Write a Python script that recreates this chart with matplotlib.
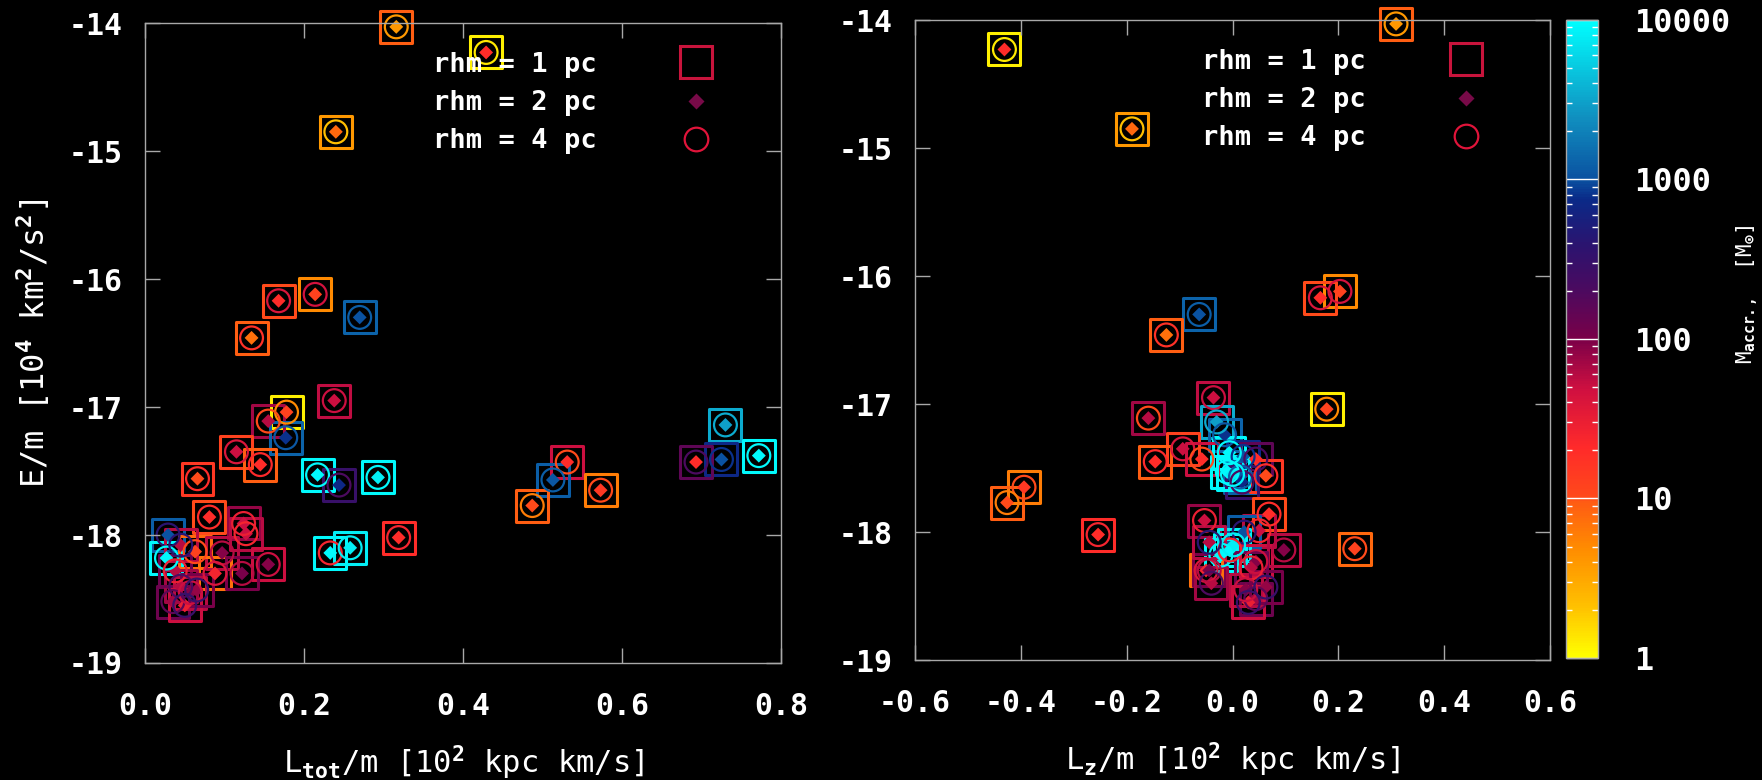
import matplotlib
matplotlib.use("Agg")
import matplotlib.pyplot as plt
import numpy as np
from matplotlib.colors import LinearSegmentedColormap, LogNorm
from matplotlib.cm import ScalarMappable
from matplotlib.lines import Line2D
from matplotlib.ticker import FixedLocator, FormatStrFormatter, LogLocator, NullFormatter

# one entry per cluster: L_tot/m, L_z/m, E/m and accreted mass for rhm = 1, 2, 4 pc
l_tot = [0.316, 0.429, 0.240, 0.214, 0.168, 0.270, 0.134, 0.238, 0.178, 0.155,
         0.730, 0.177, 0.115, 0.145, 0.772, 0.725, 0.693, 0.531, 0.513, 0.066,
         0.217, 0.244, 0.293, 0.573, 0.487, 0.081, 0.124, 0.127, 0.319, 0.029,
         0.027, 0.233, 0.258, 0.155, 0.063, 0.097, 0.088, 0.122, 0.038, 0.045,
         0.035, 0.057, 0.050, 0.065, 0.045]
l_z = [0.309, -0.431, -0.190, 0.203, 0.166, -0.063, -0.125, -0.036, 0.178, -0.159,
       -0.030, -0.015, -0.094, -0.146, -0.006, 0.020, 0.044, -0.058, 0.015, 0.063,
       -0.010, 0.018, 0.000, -0.394, -0.426, 0.069, -0.053, 0.050, -0.254, 0.022,
       -0.022, -0.005, 0.002, 0.044, 0.231, 0.097, -0.050, -0.044, 0.035, -0.040,
       0.044, 0.025, 0.030, 0.063, -0.044]
energy = [-14.03, -14.23, -14.85, -16.12, -16.17, -16.30, -16.46, -16.95, -17.04, -17.11,
          -17.14, -17.24, -17.35, -17.45, -17.38, -17.41, -17.43, -17.43, -17.57, -17.56,
          -17.53, -17.61, -17.55, -17.65, -17.77, -17.86, -17.91, -17.99, -18.02, -18.00,
          -18.18, -18.14, -18.10, -18.23, -18.13, -18.14, -18.30, -18.30, -18.28, -18.40,
          -18.52, -18.45, -18.55, -18.43, -18.08]
m_rhm1 = [9, 1.2, 4, 5, 10, 1300, 9, 55, 1.2, 70,
          3500, 1300, 12, 9, 9000, 700, 150, 50, 1200, 15,
          9000, 300, 9000, 6, 9, 10, 80, 60, 20, 1200,
          9000, 9000, 8000, 50, 8, 60, 7, 100, 120, 70,
          120, 60, 50, 100, 60]
m_rhm2 = [4, 20, 8, 12, 20, 1000, 7, 50, 12, 60,
          3000, 800, 50, 20, 9000, 1000, 20, 20, 1100, 10,
          9000, 700, 8000, 15, 10, 20, 50, 50, 20, 1000,
          9000, 9000, 8000, 90, 12, 90, 25, 100, 60, 60,
          70, 90, 30, 80, 60]
m_rhm4 = [4, 1.3, 2.2, 45, 40, 1200, 18, 50, 5, 10,
          3500, 1100, 40, 22, 9000, 800, 200, 10, 1200, 20,
          9000, 200, 9000, 10, 6, 20, 30, 25, 25, 400,
          9000, 25, 8000, 50, 10, 60, 40, 60, 30, 200,
          150, 50, 300, 300, 400]

legend_labels = ["rhm = 1 pc", "rhm = 2 pc", "rhm = 4 pc"]
cbar_ticks = [1, 10, 100, 1000, 10000]

plt.rcParams["font.family"] = ["DejaVu Sans Mono"]
plt.rcParams["font.weight"] = "bold"
plt.rcParams["mathtext.fontset"] = "custom"
plt.rcParams["mathtext.rm"] = "DejaVu Sans Mono:bold"
plt.rcParams["mathtext.it"] = "DejaVu Sans Mono:bold"
plt.rcParams["mathtext.bf"] = "DejaVu Sans Mono:bold"
plt.rcParams["axes.unicode_minus"] = False

cmap = LinearSegmentedColormap.from_list("accr", [
    (0.0, "#ffff00"), (0.08, "#ffc000"), (0.17, "#ff8c00"), (0.245, "#ff5a14"),
    (0.25, "#ff4a1a"), (0.33, "#ff2a2a"), (0.42, "#d01040"), (0.5, "#7a0048"),
    (0.58, "#4a0a60"), (0.65, "#2a1470"), (0.72, "#0a2a88"), (0.75, "#0a50a0"),
    (0.85, "#1090c0"), (1.0, "#00ffff")])
norm = LogNorm(1, 1e4)

fig = plt.figure(figsize=(17.62, 7.80), dpi=100, facecolor="black")
ax1 = fig.add_axes([0.0823, 0.150, 0.361, 0.8205])
ax2 = fig.add_axes([0.5193, 0.1538, 0.3604, 0.8205])
cax = fig.add_axes([0.8888, 0.1564, 0.0182, 0.818])

gray = "#a8a8a8"

def draw(ax, xs, xlim, xticks, xlabel):
    ax.set_facecolor("black")
    ax.scatter(xs, energy, s=530, marker="s", facecolors="none",
               edgecolors=cmap(norm(m_rhm1)), linewidths=2.2, clip_on=False)
    ax.scatter(xs, energy, s=50, marker="D", c=m_rhm2, cmap=cmap, norm=norm,
               linewidths=0, clip_on=False)
    ax.scatter(xs, energy, s=270, marker="o", facecolors="none",
               edgecolors=cmap(norm(m_rhm4)), linewidths=1.6, clip_on=False)
    ax.set_xlim(*xlim)
    ax.set_ylim(-19, -14)
    ax.xaxis.set_major_locator(FixedLocator(xticks))
    ax.xaxis.set_major_formatter(FormatStrFormatter("%.1f"))
    ax.yaxis.set_major_locator(FixedLocator([-19, -18, -17, -16, -15, -14]))
    ax.yaxis.set_major_formatter(FormatStrFormatter("%d"))
    ax.tick_params(direction="in", length=11, width=1, color=gray, labelcolor="white",
                   labelsize=21.5, top=True, right=True)
    ax.tick_params(axis="x", pad=21)
    ax.tick_params(axis="y", pad=16)
    for sp in ax.spines.values():
        sp.set_color(gray)
        sp.set_linewidth(1)
    ax.set_xlabel(xlabel, color="white", fontsize=22, labelpad=16)
    handles = [
        Line2D([], [], ls="none", marker="s", ms=23, mfc="none", mec="#c8143c", mew=2.2),
        Line2D([], [], ls="none", marker="D", ms=8.5, mfc="#780a48", mec="none"),
        Line2D([], [], ls="none", marker="o", ms=17, mfc="none", mec="#e0143a", mew=1.6),
    ]
    ax.legend(handles, legend_labels, loc="upper left", bbox_to_anchor=(0.452, 0.955),
              frameon=False, markerfirst=False, fontsize=19.5, labelcolor="white",
              handlelength=2.0, handletextpad=2.7, labelspacing=0.45,
              borderpad=0, borderaxespad=0)

draw(ax1, l_tot, (0, 0.8), [0.0, 0.2, 0.4, 0.6, 0.8], r"L$_{tot}$/m [10$^2$ kpc km/s]")
draw(ax2, l_z, (-0.6, 0.6), [-0.6, -0.4, -0.2, 0.0, 0.2, 0.4, 0.6], r"L$_z$/m [10$^2$ kpc km/s]")
ax1.set_ylabel(r"E/m [10$^4$ km$^2$/s$^2$]", color="white", fontsize=23, labelpad=12)

cb = fig.colorbar(ScalarMappable(norm=norm, cmap=cmap), cax=cax)
cb.outline.set_edgecolor(gray)
cb.outline.set_linewidth(1)
cax.yaxis.set_major_locator(FixedLocator(cbar_ticks))
cax.yaxis.set_major_formatter(FormatStrFormatter("%d"))
cax.yaxis.set_minor_locator(LogLocator(base=10, subs=np.arange(2, 10)))
cax.yaxis.set_minor_formatter(NullFormatter())
cax.tick_params(which="major", direction="in", length=23, width=1, color="white",
                labelcolor="white", labelsize=23, pad=26, right=True, left=False)
cax.tick_params(which="minor", direction="in", length=4, width=1, color="white",
                left=True, right=True)
cb.set_label(r"M$_{accr.,}$  [M$_{\odot}$]", color="white", fontsize=15)
cax.yaxis.set_label_coords(5.25, 0.57)

fig.savefig("out.png", dpi=100, facecolor="black")
